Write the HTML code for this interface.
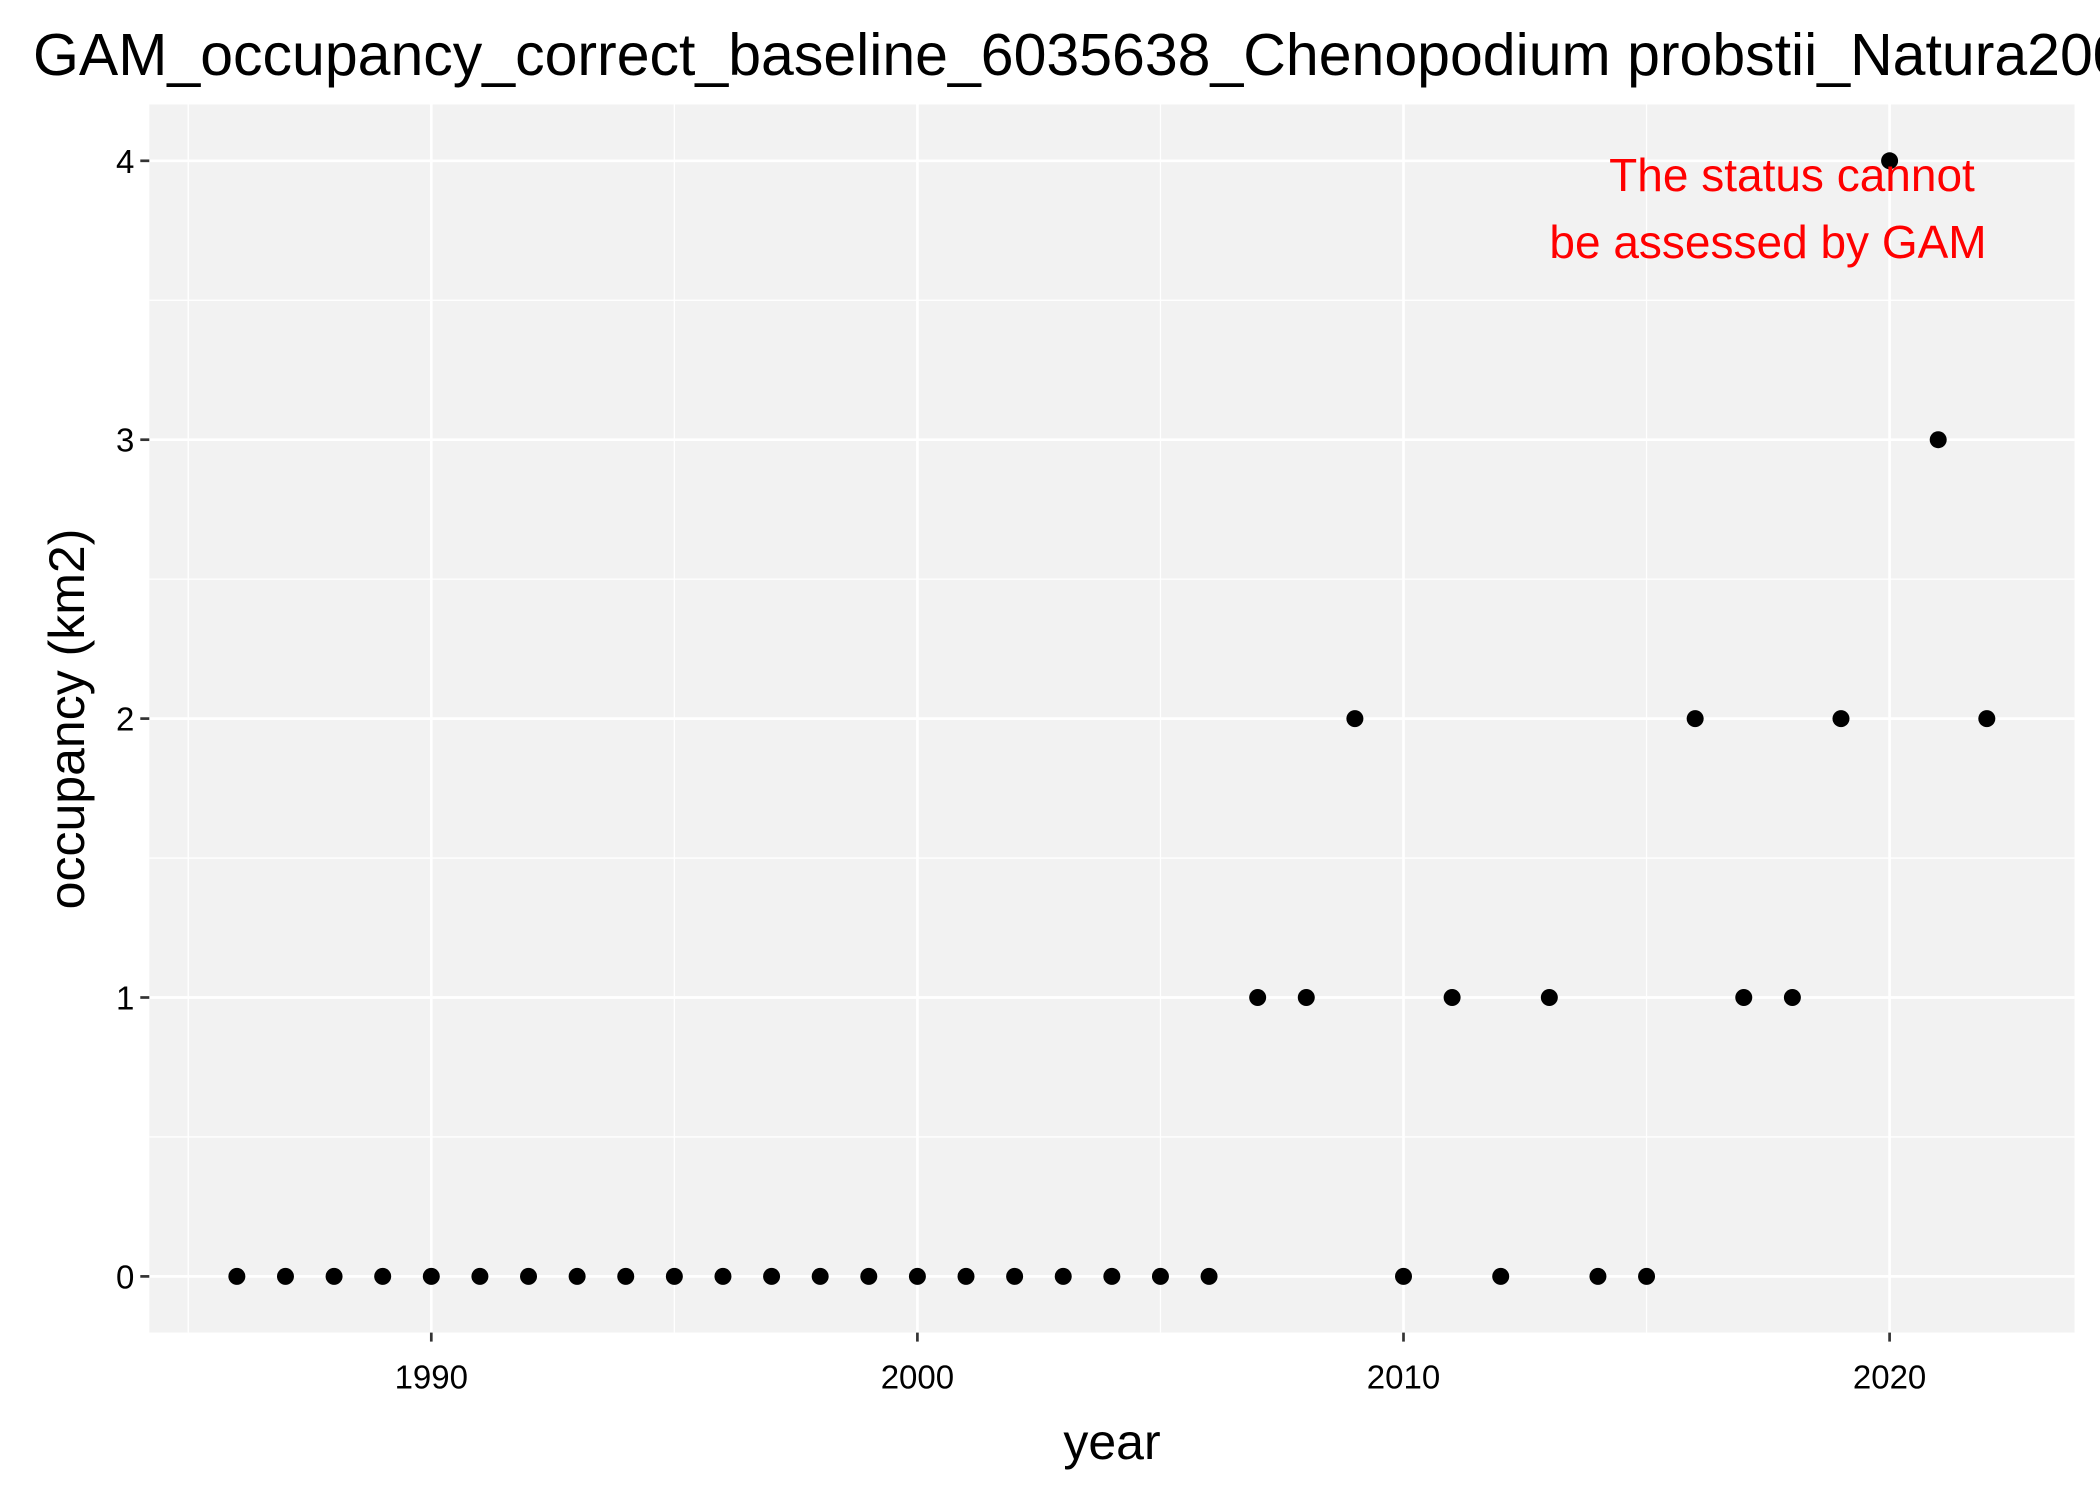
<!DOCTYPE html>
<html><head><meta charset="utf-8"><style>
html,body{margin:0;padding:0;background:#fff;overflow:hidden}
svg{display:block;font-family:"Liberation Sans",Arial,sans-serif}
</style></head><body>
<svg id="chart" width="2100" height="1499" viewBox="0 0 2100 1499" xmlns="http://www.w3.org/2000/svg">
<text x="33" y="75" font-size="59" fill="#000">GAM_occupancy_correct_baseline_6035638_Chenopodium probstii_Natura2000</text>
<rect x="149.3" y="104.5" width="1925.3" height="1228.1" fill="#f2f2f2"/>
<g id="grid"></g>
<g id="axes"></g>
<g id="points"></g>
<text x="1792" y="191" font-size="46" fill="#ff0000" text-anchor="middle">The status cannot</text>
<text x="1768" y="258" font-size="46" fill="#ff0000" text-anchor="middle">be assessed by GAM</text>
<text x="1112" y="1459" font-size="50" fill="#000" text-anchor="middle">year</text>
<text transform="translate(84,719) rotate(-90)" font-size="50" fill="#000" text-anchor="middle">occupancy (km2)</text>
</svg>
<script>
const years = [1986,1987,1988,1989,1990,1991,1992,1993,1994,1995,1996,1997,1998,1999,2000,2001,2002,2003,2004,2005,2006,2007,2008,2009,2010,2011,2012,2013,2014,2015,2016,2017,2018,2019,2020,2021,2022];
const occupancy = [0,0,0,0,0,0,0,0,0,0,0,0,0,0,0,0,0,0,0,0,0,1,1,2,0,1,0,1,0,0,2,1,1,2,4,3,2];
const xTicks = [1990,2000,2010,2020];
const xMinor = [1985,1995,2005,2015];
const yTicks = [0,1,2,3,4];
const yMinor = [0.5,1.5,2.5,3.5];

const NS = "http://www.w3.org/2000/svg";
const X0 = 149.3, X1 = 2074.6, Y0 = 104.5, Y1 = 1332.6;
function xs(v){ return 431.3 + (v - 1990) * 48.61; }
function ys(v){ return 1276.4 - v * 278.9; }
function mk(tag, attrs, parent){
  const e = document.createElementNS(NS, tag);
  for (const k in attrs) e.setAttribute(k, attrs[k]);
  parent.appendChild(e); return e;
}
const grid = document.getElementById('grid');
const axes = document.getElementById('axes');
const pts = document.getElementById('points');

yMinor.forEach(v => {
  const l = mk('line', {x1:X0, x2:X1, y1:ys(v), y2:ys(v), stroke:'#fff', 'stroke-width':1.3}, grid);
  
  
});
xMinor.forEach(v => {
  const l = mk('line', {x1:xs(v), x2:xs(v), y1:Y0, y2:Y1, stroke:'#fff', 'stroke-width':1.3}, grid);
  
  
});
yTicks.forEach(v => {
  const l = mk('line', {x1:X0, x2:X1, y1:ys(v), y2:ys(v), stroke:'#fff', 'stroke-width':2.7}, grid);
  
  
  const t = mk('line', {x1:X0-9, x2:X0, y1:ys(v), y2:ys(v), stroke:'#333', 'stroke-width':2.7}, axes);
  
  
  const tx = mk('text', {x:X0-15, y:ys(v)+12, 'font-size':33, fill:'#000', 'text-anchor':'end'}, axes);
  tx.textContent = v;
  
  
});
xTicks.forEach(v => {
  const l = mk('line', {x1:xs(v), x2:xs(v), y1:Y0, y2:Y1, stroke:'#fff', 'stroke-width':2.7}, grid);
  
  
  const t = mk('line', {x1:xs(v), x2:xs(v), y1:Y1, y2:Y1+9, stroke:'#333', 'stroke-width':2.7}, axes);
  
  
  const tx = mk('text', {x:xs(v), y:Y1+56, 'font-size':33, fill:'#000', 'text-anchor':'middle'}, axes);
  tx.textContent = v;
  
  
});
years.forEach((yr, i) => {
  const c = mk('circle', {cx:xs(yr), cy:ys(occupancy[i]), r:8.5, fill:'#000'}, pts);
  
  
});
</script>
</body></html>
